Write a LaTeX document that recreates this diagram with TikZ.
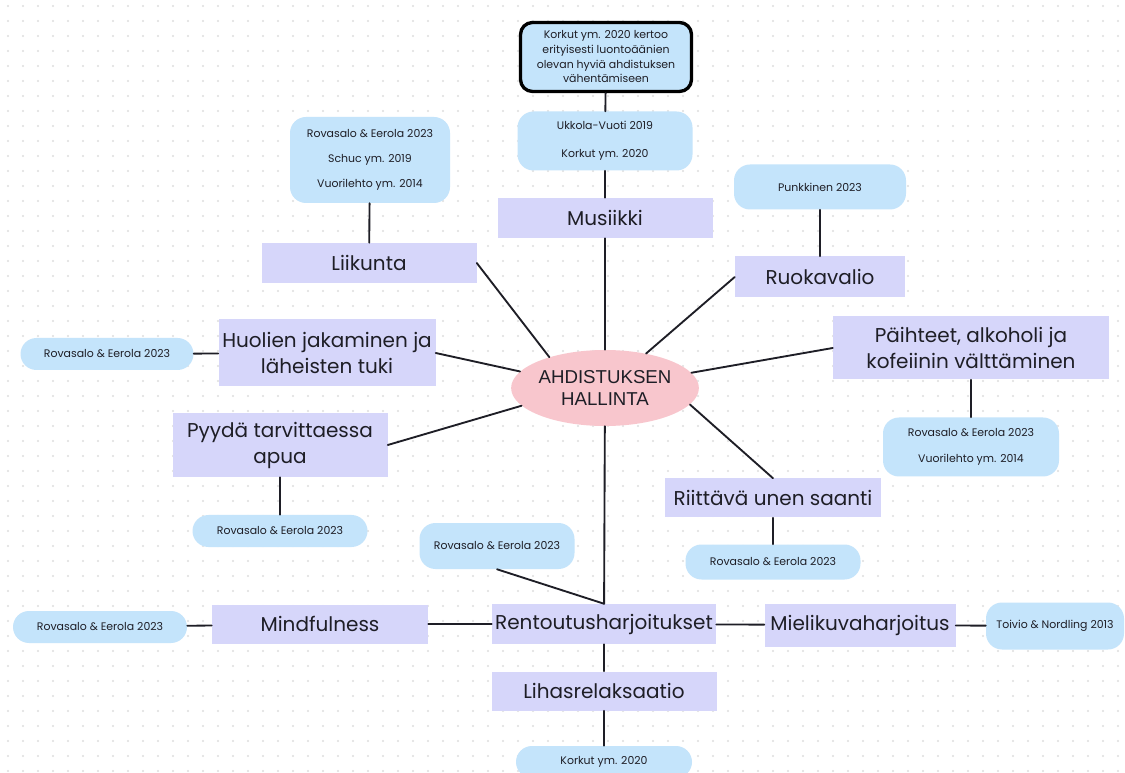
\documentclass[tikz,border=0pt]{standalone}
\usepackage{fontspec}
\setmainfont{Poppins}
\newfontfamily\keskifont{Liberation Sans}
\usetikzlibrary{shapes.geometric}
\definecolor{sininen}{HTML}{C4E4FB}
\definecolor{violetti}{HTML}{D6D6FA}
\definecolor{pinkki}{HTML}{F8C6CD}
\definecolor{piste}{HTML}{DEDEDE}
\definecolor{teksti}{HTML}{1E1E26}
\begin{document}
\begin{tikzpicture}[x=0.75pt, y=-0.75pt, line join=round, line cap=round,
	koko/.style 2 args={minimum width=#1*0.75pt, minimum height=#2*0.75pt},
	aihe/.style={fill=violetti, inner sep=0pt, align=center, text=teksti, font=\fontsize{15}{19.5}\selectfont},
	lahde/.style={fill=sininen, rounded corners=12pt, inner sep=0pt, align=center, text=teksti, font=\fontsize{8.2}{10}\selectfont},
	keski/.style={ellipse, fill=pinkki, koko={170}{76}, inner sep=0pt, align=center, text=teksti, font=\keskifont\fontsize{14}{16.5}\selectfont},
	viiva/.style={draw=teksti, line width=1.4pt}]
	% tausta
	\fill[white] (0,0) rectangle (1125,773);
	\foreach \i in {0,...,74} \foreach \j in {0,...,51} \fill[piste] (\i*15+8,\j*15+6) circle (0.8pt);
	\useasboundingbox (0,0) rectangle (1125,773);
	% solmut
	\node[draw=black, line width=2.5pt, fill=sininen, rounded corners=9pt, koko={171}{69}, inner sep=0pt, align=center, text=teksti, font=\fontsize{8.2}{11}\selectfont] (korkut) at (606,57) {Korkut ym. 2020 kertoo\\erityisesti luontoäänien\\olevan hyviä ahdistuksen\\vähentämiseen};
	\node[lahde, koko={175}{59}] (ukkola) at (605,141) {Ukkola-Vuoti 2019\\[11pt]Korkut ym. 2020};
	\node[aihe, koko={215}{40}] (musiikki) at (605,218) {Musiikki};
	\node[lahde, koko={160}{86}] (liikL) at (370,160) {Rovasalo \& Eerola 2023\\[8.75pt]Schuc ym. 2019\\[8.75pt]Vuorilehto ym. 2014};
	\node[aihe, koko={215}{40}] (liikunta) at (369,263) {Liikunta};
	\node[lahde, koko={172}{45}] (punkL) at (820,187) {Punkkinen 2023};
	\node[aihe, koko={170}{41}] (ruoka) at (820,277) {Ruokavalio};
	\node[lahde, koko={173}{32}] (huolL) at (107,354) {Rovasalo \& Eerola 2023};
	\node[aihe, koko={217}{67}] (huolet) at (327,353) {Huolien jakaminen ja\\läheisten tuki};
	\node[keski] (keski) at (605,388) {AHDISTUKSEN\\HALLINTA};
	\node[aihe, koko={276}{63}] (paihteet) at (971,348) {Päihteet, alkoholi ja\\kofeiinin välttäminen};
	\node[lahde, koko={176}{59}] (paihL) at (971,447) {Rovasalo \& Eerola 2023\\[10pt]Vuorilehto ym. 2014};
	\node[aihe, koko={215}{64}] (apu) at (280,445) {Pyydä tarvittaessa\\apua};
	\node[lahde, koko={175}{32}] (apuL) at (280,531) {Rovasalo \& Eerola 2023};
	\node[aihe, koko={216}{39}] (uni) at (773,498) {Riittävä unen saanti};
	\node[lahde, koko={175}{35}] (uniL) at (773,562) {Rovasalo \& Eerola 2023};
	\node[lahde, koko={155}{46}] (rentL) at (497,546) {Rovasalo \& Eerola 2023};
	\node[aihe, koko={224}{40}] (rento) at (604,624) {Rentoutusharjoitukset};
	\node[aihe, koko={216}{39}] (mind) at (320,624) {Mindfulness};
	\node[lahde, koko={174}{32}] (mindL) at (100,627) {Rovasalo \& Eerola 2023};
	\node[aihe, koko={191}{43}] (mieli) at (860,625) {Mielikuvaharjoitus};
	\node[lahde, koko={138}{47}] (mieliL) at (1055,626) {Toivio \& Nordling 2013};
	\node[aihe, koko={225}{39}] (lihas) at (604,691) {Lihasrelaksaatio};
	\node[lahde, koko={176}{32}] (lihasL) at (604,762) {Korkut ym. 2020};
	% viivat
	\draw[viiva] (korkut) -- (ukkola) -- (musiikki) -- (keski);
	\draw[viiva] (liikL) -- (liikunta);
	\draw[viiva] (punkL) -- (ruoka);
	\draw[viiva] (huolL) -- (huolet);
	\draw[viiva] (paihteet) -- (paihL);
	\draw[viiva] (apu) -- (apuL);
	\draw[viiva] (uni) -- (uniL);
	\draw[viiva] (liikunta.east) -- (keski.151);
	\draw[viiva] (ruoka.west) -- (keski.40);
	\draw[viiva] (huolet.east) -- (keski.169);
	\draw[viiva] (paihteet.west) -- (keski.10);
	\draw[viiva] (apu.east) -- (keski.192);
	\draw[viiva] (uni.north) -- (keski.349);
	\draw[viiva] (keski) -- (rento);
	\draw[viiva] (rentL.south) -- (rento.north);
	\draw[viiva] (mindL) -- (mind) -- (rento) -- (mieli) -- (mieliL);
	\draw[viiva] (rento) -- (lihas) -- (lihasL);
\end{tikzpicture}
\end{document}
